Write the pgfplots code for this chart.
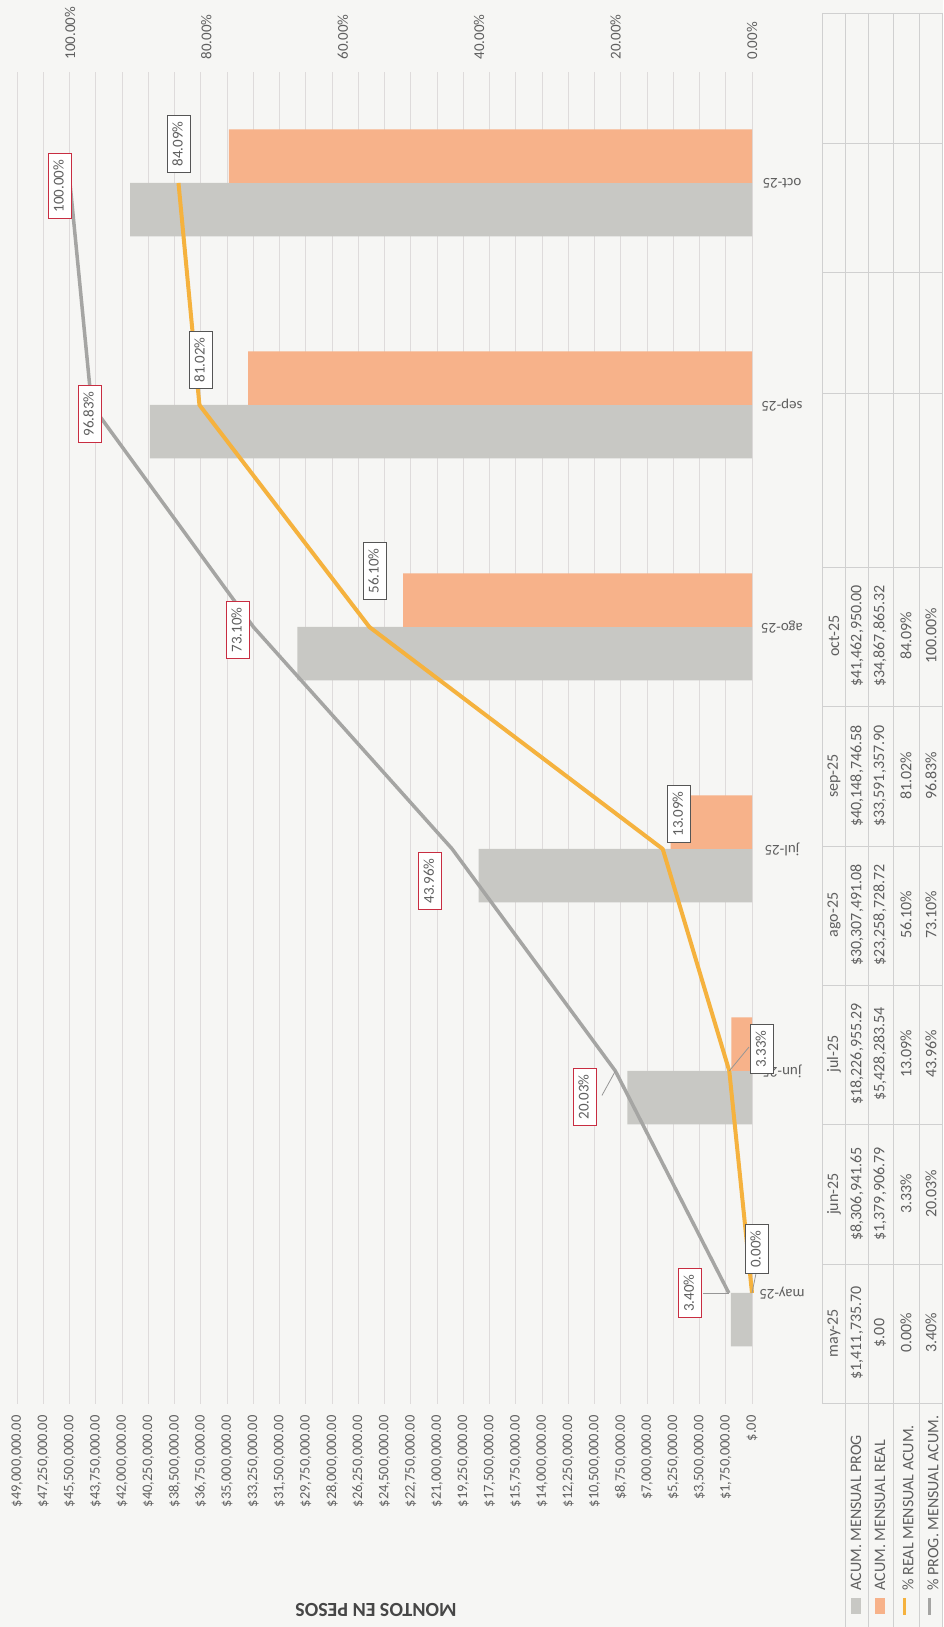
\documentclass[border=0pt]{standalone}
\usepackage{fontspec}
\setmainfont{Carlito}
\usepackage{pgfplots}
\pgfplotsset{compat=1.18}
\definecolor{bg}{RGB}{246,246,244}
\definecolor{gridc}{RGB}{222,219,219}
\definecolor{barG}{RGB}{200,200,196}
\definecolor{barO}{RGB}{247,178,138}
\definecolor{lineO}{RGB}{245,178,62}
\definecolor{lineG}{RGB}{165,165,163}
\definecolor{txt}{RGB}{95,95,95}
\definecolor{boxR}{RGB}{200,45,65}
\definecolor{boxG}{RGB}{85,85,85}
\definecolor{tgrid}{RGB}{208,208,208}
\definecolor{lead}{RGB}{150,150,150}
\newcommand\fs[1]{\fontsize{#1}{#1}\selectfont}
\tikzset{
  lbl/.style={rotate=90, font=\fs{15}, text=txt, fill=white, line width=1.2pt,
    inner xsep=6pt, inner ysep=5pt, text height=10.5pt, text depth=3pt},
  lblR/.style={lbl, draw=boxR},
  lblG/.style={lbl, draw=boxG},
  tv/.style={rotate=90, font=\fs{16}, text=txt},
  mon/.style={rotate=180, xshift=-30pt, font=\fs{15}, text=txt},
}
\begin{document}
\begin{tikzpicture}
\useasboundingbox (0pt,0pt) rectangle (943pt,1627pt);
\fill[bg] (0pt,0pt) rectangle (943pt,1627pt);

% ---------------- bars (money axis) ----------------
\begin{axis}[
  at={(384.5pt,889pt)}, anchor=center,
  scale only axis, width=735pt, height=1332pt,
  x dir=reverse,
  xmin=0, xmax=49, ymin=-0.5, ymax=5.5,
  xtick={0,1.75,3.5,5.25,7,8.75,10.5,12.25,14,15.75,17.5,19.25,21,22.75,24.5,26.25,28,29.75,31.5,33.25,35,36.75,38.5,40.25,42,43.75,45.5,47.25,49},
  xticklabels={{\$.00},{\$1,750,000.00},{\$3,500,000.00},{\$5,250,000.00},{\$7,000,000.00},{\$8,750,000.00},{\$10,500,000.00},{\$12,250,000.00},{\$14,000,000.00},{\$15,750,000.00},{\$17,500,000.00},{\$19,250,000.00},{\$21,000,000.00},{\$22,750,000.00},{\$24,500,000.00},{\$26,250,000.00},{\$28,000,000.00},{\$29,750,000.00},{\$31,500,000.00},{\$33,250,000.00},{\$35,000,000.00},{\$36,750,000.00},{\$38,500,000.00},{\$40,250,000.00},{\$42,000,000.00},{\$43,750,000.00},{\$45,500,000.00},{\$47,250,000.00},{\$49,000,000.00}},
  xticklabel style={rotate=90, anchor=east, font=\fs{14.5}, text=txt},
  xticklabel shift=8pt,
  ytick=\empty,
  xmajorgrids, grid style={draw=gridc, line width=0.8pt},
  axis line style={draw=none}, tick style={draw=none},
  clip=false,
]
\addplot[xbar, bar width=0.241, bar shift=-0.1205, fill=barG, draw=none]
  coordinates {(1.4117357,0) (8.30694165,1) (18.22695529,2) (30.30749108,3) (40.14874658,4) (41.46295,5)};
\addplot[xbar, bar width=0.241, bar shift=0.1205, fill=barO, draw=none]
  coordinates {(0,0) (1.37990679,1) (5.42828354,2) (23.25872872,3) (33.5913579,4) (34.86786532,5)};
\node[mon] at (axis cs:0,0) {may-25};
\node[mon] at (axis cs:0,1) {jun-25};
\node[mon] at (axis cs:0,2) {jul-25};
\node[mon] at (axis cs:0,3) {ago-25};
\node[mon] at (axis cs:0,4) {sep-25};
\node[mon] at (axis cs:0,5) {oct-25};
\end{axis}

% ---------------- lines (percentage axis) ----------------
\begin{axis}[
  at={(384.5pt,889pt)}, anchor=center,
  scale only axis, width=735pt, height=1332pt,
  x dir=reverse, xmin=0, xmax=107.77, ymin=-0.5, ymax=5.5,
  axis x line*=top, axis y line=none,
  xtick={0,20,40,60,80,100},
  xticklabels={{0.00\%},{20.00\%},{40.00\%},{60.00\%},{80.00\%},{100.00\%}},
  xticklabel style={rotate=90, anchor=west, font=\fs{15}, text=txt},
  xticklabel shift=9pt,
  axis line style={draw=none}, tick style={draw=none},
  clip=false,
]
\addplot[draw=lineO, line width=4pt, line join=round, mark=none]
  coordinates {(0,0) (3.33,1) (13.09,2) (56.10,3) (81.02,4) (84.09,5)};
\addplot[draw=lineG, line width=3.5pt, line join=round, mark=none]
  coordinates {(3.40,0) (20.03,1) (43.96,2) (73.10,3) (96.83,4) (100,5)};
% leader lines
\draw[lead, line width=0.8pt] (axis cs:3.40,0) -- (axis cs:7.18,0);
\draw[lead, line width=0.8pt] (axis cs:20.03,1) -- (axis cs:22.0,0.89);
\draw[lead, line width=0.8pt] (axis cs:0,0) -- (axis cs:-0.6,0.09);
\draw[lead, line width=0.8pt] (axis cs:3.33,1) -- (axis cs:0.44,1.108);
% data labels: programmed
\node[lblR] at (axis cs:9.09,0) {3.40\%};
\node[lblR] at (axis cs:24.49,0.883) {20.03\%};
\node[lblR] at (axis cs:47.21,1.856) {43.96\%};
\node[lblR] at (axis cs:75.37,2.986) {73.10\%};
\node[lblR] at (axis cs:97.07,3.959) {96.83\%};
\node[lblR] at (axis cs:101.47,4.986) {100.00\%};
% data labels: real
\node[lblG] at (axis cs:-0.73,0.198) {0.00\%};
\node[lblG] at (axis cs:-1.47,1.099) {3.33\%};
\node[lblG] at (axis cs:10.70,2.158) {13.09\%};
\node[lblG] at (axis cs:55.28,3.252) {56.10\%};
\node[lblG] at (axis cs:80.79,4.203) {81.02\%};
\node[lblG] at (axis cs:84.02,5.176) {84.09\%};
\end{axis}

% ---------------- title and data table (image coordinates) ----------------
\begin{scope}[x=1pt, y=-1pt, shift={(0pt,1627pt)}]
\node[rotate=180, font=\bfseries\fs{20}, text={rgb,255:red,70;green,70;blue,70}] at (376,1610) {MONTOS EN PESOS};
% grid of the table
\foreach \yy in {13,143,272,393,567,706,846,985,1124,1264,1403}
  \draw[tgrid, line width=0.8pt] (822,\yy) -- (943,\yy);
\draw[tgrid, line width=0.8pt] (822,13) -- (822,1403);
\foreach \xx in {845,868,893,919,942}
  \draw[tgrid, line width=0.8pt] (\xx,13) -- (\xx,1627);
% month headers
\node[tv] at (834,636) {oct-25};
\node[tv] at (834,776) {sep-25};
\node[tv] at (834,915) {ago-25};
\node[tv] at (834,1054) {jul-25};
\node[tv] at (834,1194) {jun-25};
\node[tv] at (834,1333) {may-25};
% programmed amounts
\node[tv] at (857,636) {\$41,462,950.00};
\node[tv] at (857,776) {\$40,148,746.58};
\node[tv] at (857,915) {\$30,307,491.08};
\node[tv] at (857,1054) {\$18,226,955.29};
\node[tv] at (857,1194) {\$8,306,941.65};
\node[tv] at (857,1333) {\$1,411,735.70};
% real amounts
\node[tv] at (880,636) {\$34,867,865.32};
\node[tv] at (880,776) {\$33,591,357.90};
\node[tv] at (880,915) {\$23,258,728.72};
\node[tv] at (880,1054) {\$5,428,283.54};
\node[tv] at (880,1194) {\$1,379,906.79};
\node[tv] at (880,1333) {\$.00};
% real %
\node[tv] at (906,636) {84.09\%};
\node[tv] at (906,776) {81.02\%};
\node[tv] at (906,915) {56.10\%};
\node[tv] at (906,1054) {13.09\%};
\node[tv] at (906,1194) {3.33\%};
\node[tv] at (906,1333) {0.00\%};
% programmed %
\node[tv] at (931,636) {100.00\%};
\node[tv] at (931,776) {96.83\%};
\node[tv] at (931,915) {73.10\%};
\node[tv] at (931,1054) {43.96\%};
\node[tv] at (931,1194) {20.03\%};
\node[tv] at (931,1333) {3.40\%};
% row labels with keys
\node[tv, anchor=west] at (856,1594) {ACUM. MENSUAL PROG};
\node[tv, anchor=west] at (880,1594) {ACUM. MENSUAL REAL};
\node[tv, anchor=west] at (908,1594) {\% REAL MENSUAL ACUM.};
\node[tv, anchor=west] at (933,1594) {\% PROG. MENSUAL ACUM.};
\fill[barG] (851,1598) rectangle (861,1614);
\fill[barO] (875,1598) rectangle (885,1614);
\draw[lineO, line width=3pt] (904,1598) -- (904,1615);
\draw[lineG, line width=3pt] (929,1598) -- (929,1615);
\end{scope}
\end{tikzpicture}
\end{document}
